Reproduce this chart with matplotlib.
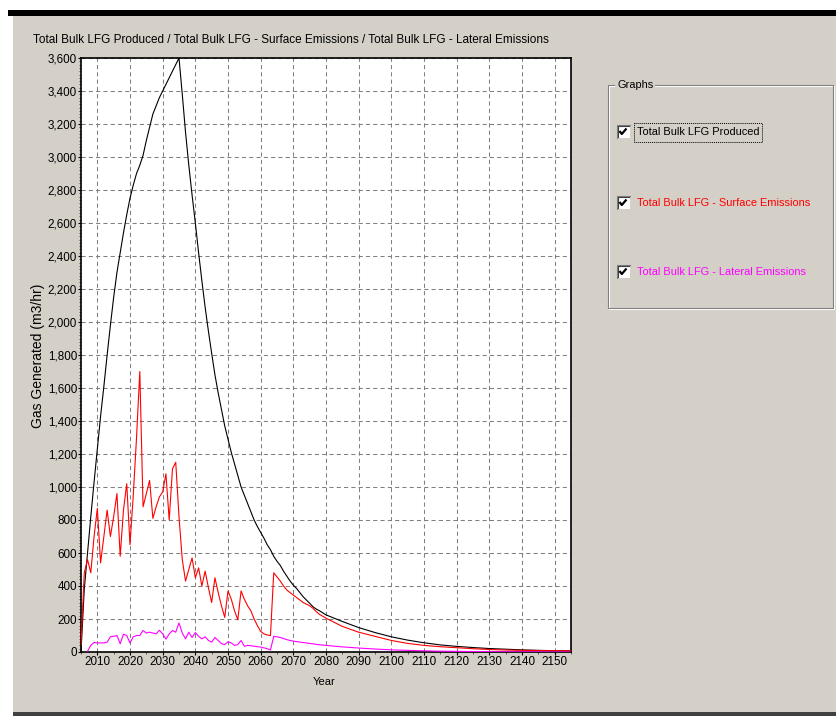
import matplotlib
matplotlib.use("Agg")
import matplotlib.pyplot as plt
from matplotlib.patches import Rectangle
from matplotlib.lines import Line2D
from matplotlib.ticker import MultipleLocator, FuncFormatter

plt.rcParams['font.family'] = ['Liberation Sans', 'DejaVu Sans']

# ---------------- data ----------------
title = ("Total Bulk LFG Produced / Total Bulk LFG - Surface Emissions / "
         "Total Bulk LFG - Lateral Emissions")
series_names = ["Total Bulk LFG Produced",
                "Total Bulk LFG - Surface Emissions",
                "Total Bulk LFG - Lateral Emissions"]
x_label = "Year"
y_label = "Gas Generated (m3/hr)"

tail_years = [2080, 2085, 2090, 2095, 2100, 2105, 2110, 2115, 2120, 2125,
              2130, 2135, 2140, 2145, 2150, 2155]

produced_years = list(range(2005, 2079)) + tail_years
produced = [0, 380, 600, 820, 1030, 1230, 1430, 1610, 1800, 1980,
            2150, 2300, 2420, 2540, 2650, 2750, 2830, 2900, 2950, 3010,
            3100, 3180, 3260, 3310, 3360, 3400, 3440, 3480, 3520, 3560,
            3600, 3380, 3150, 2950, 2770, 2600, 2420, 2250, 2090, 1945,
            1810, 1680, 1570, 1470, 1370, 1290, 1210, 1140, 1070, 1000,
            950, 900, 850, 800, 760, 725, 690, 650, 620, 580,
            550, 525, 490, 460, 430, 405, 385, 360, 335, 315,
            295, 275, 260, 250,
            225, 185, 148, 118, 92, 72, 56, 43, 34, 27, 21, 17, 13, 10, 8, 7]

surface_years = list(range(2005, 2079)) + tail_years
surface = [40, 480, 560, 480, 700, 870, 540, 700, 860, 700,
           820, 960, 580, 860, 1020, 650, 950, 1300, 1700, 880,
           960, 1040, 810, 880, 940, 970, 1080, 800, 1110, 1150,
           820, 560, 430, 500, 570, 450, 510, 400, 490, 390,
           300, 450, 360, 280, 210, 370, 320, 250, 195, 370,
           320, 280, 250, 200, 160, 125, 110, 103, 100, 480,
           455, 430, 400, 376, 360, 345, 330, 315, 300, 290,
           280, 265, 245, 228,
           205, 155, 120, 95, 70, 52, 40, 32, 26, 20, 15, 12, 10, 9, 8, 7]

lateral_years = list(range(2007, 2071)) + [2072, 2075, 2078, 2080, 2085, 2090,
                                           2095, 2100, 2105, 2110, 2115, 2120,
                                           2125, 2130, 2140, 2155]
lateral = [5, 40, 58, 55, 55, 55, 60, 92, 95, 100,
           50, 108, 100, 55, 92, 100, 100, 130, 115, 120,
           115, 110, 132, 110, 78, 110, 130, 120, 176, 115,
           80, 120, 88, 118, 95, 80, 92, 70, 60, 88,
           70, 50, 45, 62, 55, 40, 45, 70, 35, 40,
           38, 35, 32, 30, 25, 20, 12, 95, 92, 88,
           82, 75, 70, 66,
           60, 52, 44, 40, 31, 24, 18, 13, 10, 7, 5, 4, 3, 2, 1, 0]

x_ticks = list(range(2010, 2151, 10))
y_ticks = list(range(0, 3601, 200))
series_colors = ['#000000', '#FF0000', '#FF00FF']

# ---------------- figure ----------------
W, H = 836, 716
BG = '#D4D0C8'
fig = plt.figure(figsize=(W / 100, H / 100), dpi=100)
fig.patch.set_facecolor('white')

# background / window chrome (pixel coordinates, y downwards)
bg = fig.add_axes([0, 0, 1, 1], zorder=-1)
bg.set_xlim(0, W)
bg.set_ylim(H, 0)
bg.axis('off')
bg.add_patch(Rectangle((13, 16), W - 13, 697, fc=BG, ec='none'))
bg.add_patch(Rectangle((8, 10), W - 8, 6, fc='black', ec='none'))
bg.add_patch(Rectangle((13, 712), W - 13, 4, fc='#404040', ec='none'))

bg.text(33, 40, title, ha='left', va='center', fontsize=8.45, color='black')

# group box "Graphs"
bg.add_patch(Rectangle((609, 86), 225, 223, fill=False, ec='white', lw=0.8))
bg.add_patch(Rectangle((608, 85), 225, 223, fill=False, ec='#808080', lw=0.8))
bg.text(617, 85, "Graphs", ha='left', va='center', fontsize=7.9, color='black',
        bbox=dict(boxstyle='square,pad=0.15', fc=BG, ec='none'))

rows_y = [131.5, 202.5, 271.5]
for ry, name, col in zip(rows_y, series_names, series_colors):
    cx = 623
    bg.add_patch(Rectangle((cx - 6.5, ry - 6.5), 13, 13, fc='white', ec='none'))
    bg.add_line(Line2D([cx - 6.5, cx - 6.5, cx + 6.5], [ry + 6.5, ry - 6.5, ry - 6.5],
                       color='#808080', lw=0.8))
    bg.add_line(Line2D([cx - 5.5, cx - 5.5, cx + 5.5], [ry + 5.5, ry - 5.5, ry - 5.5],
                       color='#404040', lw=0.8))
    bg.add_line(Line2D([cx - 3.5, cx - 1.2, cx + 3.5], [ry - 0.5, ry + 2.5, ry - 3.0],
                       color='black', lw=1.6, solid_capstyle='butt'))
    bg.text(637, ry + 0.5, name, ha='left', va='center', fontsize=7.9, color=col)

bg.add_patch(Rectangle((634, 123), 128, 19, fill=False, ec='black', lw=0.7,
                       ls=(0, (1, 1))))

# ---------------- main plot ----------------
left, right, top, bottom = 81, 571, 58, 652
ax = fig.add_axes([left / W, 1 - bottom / H, (right - left) / W, (bottom - top) / H])
ax.set_facecolor('white')

ax.plot(produced_years, produced, color=series_colors[0], lw=0.8, zorder=3)
ax.plot(surface_years, surface, color=series_colors[1], lw=0.8, zorder=3)
ax.plot(lateral_years, lateral, color=series_colors[2], lw=0.8, zorder=3)

ax.set_xlim(2005, 2155)
ax.set_ylim(0, 3600)
ax.set_xticks(x_ticks)
ax.set_yticks(y_ticks)
ax.xaxis.set_minor_locator(MultipleLocator(5))
ax.yaxis.set_minor_locator(MultipleLocator(20))
ax.yaxis.set_major_formatter(FuncFormatter(lambda v, p: f"{int(v):,}"))

ax.grid(True, which='major', color='#808080', lw=0.75, ls=(0, (4, 3)))
ax.set_axisbelow(True)
ax.tick_params(axis='both', which='major', direction='out', length=2.2, width=0.8,
               labelsize=8.4, pad=0.6, colors='black')
ax.tick_params(axis='both', which='minor', direction='out', length=1.5, width=0.6,
               colors='#404040')
for s in ax.spines.values():
    s.set_color('black')
    s.set_linewidth(1.2)

ax.set_xlabel(x_label, fontsize=8.0, va='center')
ax.xaxis.set_label_coords((324 - left) / (right - left), (bottom - 682) / (bottom - top))
ax.set_ylabel(y_label, fontsize=10, va='center')
ax.yaxis.set_label_coords((38 - left) / (right - left), (bottom - 356) / (bottom - top))

fig.savefig("out.png", dpi=100, facecolor=fig.get_facecolor())
